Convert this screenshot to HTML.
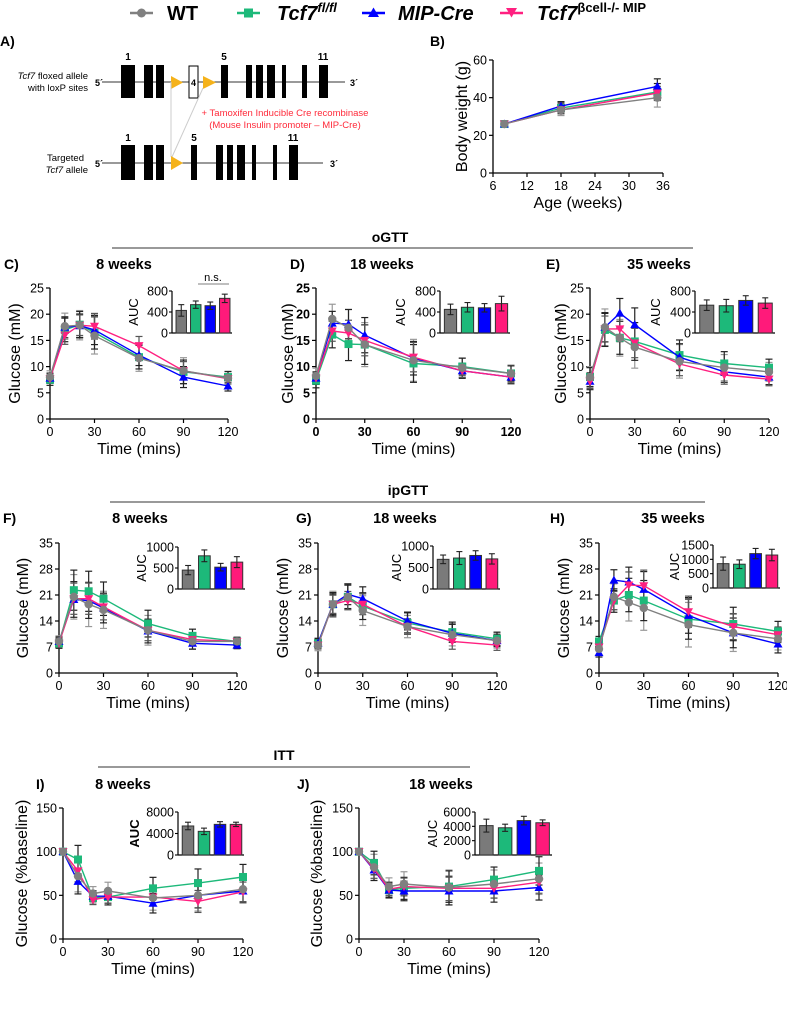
<!DOCTYPE html>
<html><head><meta charset="utf-8">
<style>
html,body{margin:0;padding:0;background:#fff;}
svg{display:block;font-family:"Liberation Sans",Arial,sans-serif;}
</style></head>
<body>
<svg id="fig" width="787" height="1016" viewBox="0 0 787 1016" xmlns="http://www.w3.org/2000/svg">
<g>
 <g>
  <line x1="130" y1="13" x2="153" y2="13" stroke="#808080" stroke-width="2.5"/><circle cx="141.5" cy="13" r="4.5" fill="#808080"/>
  <text x="167" y="20" font-size="20" font-weight="bold">WT</text></g>
 <g>
  <line x1="237" y1="13" x2="260" y2="13" stroke="#1db97a" stroke-width="2.5"/><rect x="244" y="8.5" width="9" height="9" fill="#1db97a"/>
  <text x="277" y="20" font-size="20" font-weight="bold" font-style="italic">Tcf7<tspan dy="-8" font-size="13">fl/fl</tspan></text></g>
 <g>
  <line x1="362" y1="13" x2="385" y2="13" stroke="#0000ff" stroke-width="2.5"/><path d="M373.5,7.5 L379,17 L368,17 Z" fill="#0000ff"/>
  <text x="398" y="20" font-size="20" font-weight="bold" font-style="italic">MIP-Cre</text></g>
 <g>
  <line x1="500" y1="13" x2="523" y2="13" stroke="#ff2080" stroke-width="2.5"/><path d="M506,8 L517,8 L511.5,17.5 Z" fill="#ff2080"/>
  <text x="537" y="20" font-size="20" font-weight="bold"><tspan font-style="italic">Tcf7</tspan><tspan dy="-8" font-size="13">βcell-/- MIP</tspan></text></g>
</g>

<g>
 <text x="0" y="46" font-size="14" font-weight="bold">A)</text>
 <text x="88" y="79" font-size="9.5" text-anchor="end"><tspan font-style="italic">Tcf7</tspan> floxed allele</text>
 <text x="88" y="91" font-size="9.5" text-anchor="end">with loxP sites</text>
 <text x="95" y="86" font-size="9" font-weight="bold">5´</text>
 <text x="350" y="86" font-size="9" font-weight="bold">3´</text>
 <line x1="102" y1="82" x2="345" y2="82" stroke="#333" stroke-width="1"/>
 <g fill="#000">
  <rect x="121" y="65" width="14" height="33"/><rect x="144" y="65" width="9" height="33"/><rect x="156" y="65" width="8" height="33"/>
  <rect x="221" y="65" width="7" height="33"/><rect x="246" y="65" width="6" height="33"/><rect x="256" y="65" width="7" height="33"/>
  <rect x="267" y="65" width="8" height="33"/><rect x="282" y="65" width="4" height="33"/><rect x="302" y="65" width="5" height="33"/><rect x="319" y="65" width="9" height="33"/>
 </g>
 <rect x="189" y="66" width="9" height="32" fill="#fff" stroke="#000" stroke-width="1"/>
 <text x="193.5" y="86" font-size="9" font-weight="bold" text-anchor="middle">4</text>
 <path d="M171,76 L183,82.5 L171,89 Z" fill="#f5b21a"/><path d="M203,76 L216,82.5 L203,89 Z" fill="#f5b21a"/>
 <text x="128" y="60" font-size="10" font-weight="bold" text-anchor="middle">1</text>
 <text x="224" y="60" font-size="10" font-weight="bold" text-anchor="middle">5</text>
 <text x="323" y="60" font-size="10" font-weight="bold" text-anchor="middle">11</text>
 <line x1="171" y1="82" x2="171" y2="157" stroke="#ccc" stroke-width="1"/>
 <line x1="203" y1="88" x2="172" y2="157" stroke="#ccc" stroke-width="1"/>
 <text x="285" y="116" font-size="9.5" fill="#ff2a3a" text-anchor="middle">+ Tamoxifen Inducible Cre recombinase</text>
 <text x="285" y="128" font-size="9.5" fill="#ff2a3a" text-anchor="middle">(Mouse Insulin promoter – MIP-Cre)</text>
 <text x="84" y="161" font-size="9.5" text-anchor="end">Targeted</text>
 <text x="88" y="173" font-size="9.5" text-anchor="end"><tspan font-style="italic">Tcf7</tspan> allele</text>
 <text x="95" y="167" font-size="9" font-weight="bold">5´</text>
 <text x="330" y="167" font-size="9" font-weight="bold">3´</text>
 <line x1="102" y1="163" x2="323" y2="163" stroke="#333" stroke-width="1"/>
 <g fill="#000">
  <rect x="121" y="145" width="14" height="35"/><rect x="144" y="145" width="9" height="35"/><rect x="156" y="145" width="8" height="35"/>
  <rect x="191" y="145" width="6" height="35"/><rect x="216" y="145" width="7" height="35"/><rect x="227" y="145" width="6" height="35"/>
  <rect x="237" y="145" width="8" height="35"/><rect x="252" y="145" width="4" height="35"/><rect x="273" y="145" width="4" height="35"/><rect x="289" y="145" width="9" height="35"/>
 </g>
 <path d="M171,156 L183,163 L171,170 Z" fill="#f5b21a"/>
 <text x="128" y="141" font-size="10" font-weight="bold" text-anchor="middle">1</text>
 <text x="194" y="141" font-size="10" font-weight="bold" text-anchor="middle">5</text>
 <text x="293" y="141" font-size="10" font-weight="bold" text-anchor="middle">11</text>
</g>

<text x="390" y="242" font-size="14" font-weight="bold" text-anchor="middle">oGTT</text>
<line x1="112" y1="248" x2="693" y2="248" stroke="#333" stroke-width="1"/>
<text x="408" y="495" font-size="14" font-weight="bold" text-anchor="middle">ipGTT</text>
<line x1="110" y1="502" x2="705" y2="502" stroke="#333" stroke-width="1"/>
<text x="284" y="760" font-size="14" font-weight="bold" text-anchor="middle">ITT</text>
<line x1="98" y1="767" x2="470" y2="767" stroke="#333" stroke-width="1"/>

<g id="charts"></g>
</svg>
<script>
const times = [0, 10, 20, 30, 60, 90, 120];
const seriesNames = ["WT", "Tcf7 fl/fl", "MIP-Cre", "Tcf7 bcell-/- MIP"];
const timeTicks = [0, 30, 60, 90, 120];

const ages = [8, 18, 35];
const bWT = [26, 33.5, 40];
const bFl = [26, 34.5, 43];
const bMip = [26, 35.5, 46];
const bKo = [26, 33.5, 42.5];
const bErr = [1.5, 3, 5];
const bAgeTicks = [6, 12, 18, 24, 30, 36];
const bYTicks = [0, 20, 40, 60];

const ogttTicks = [0, 5, 10, 15, 20, 25];
const cWT = [8, 17.7, 17.9, 15.9, 11.6, 9.2, 7.8];
const cFl = [7.5, 17, 18, 16.5, 11.8, 9, 8];
const cMip = [7.8, 17.5, 17.8, 17, 12.2, 8, 6.3];
const cKo = [7.7, 16, 17.9, 17.7, 14, 9.2, 7.7];
const cErr = [1.2, 2.5, 2.8, 3.5, 2.5, 2.5, 1.2];
const cAuc = [430, 540, 520, 660];
const cAucErr = [110, 70, 70, 80];

const dWT = [8.2, 19.1, 17.4, 14.2, 11.2, 9.8, 8.7];
const dFl = [7.3, 16.1, 14.3, 14.2, 10.6, 10, 8.7];
const dMip = [7.8, 18.3, 18.1, 16, 11.6, 9.2, 8];
const dKo = [7.8, 16.8, 16.4, 15, 11.8, 9.2, 8];
const dErr = [1.5, 2.8, 3.5, 4.2, 4, 1.8, 1.6];
const dAuc = [450, 490, 480, 560];
const dAucErr = [100, 90, 80, 140];

const eWT = [8, 17.5, 15.5, 13.7, 11, 9.8, 9];
const eFl = [8, 17, 15.5, 14.8, 12.2, 10.6, 9.8];
const eMip = [7.2, 17.5, 20.2, 18, 11.8, 9, 8];
const eKo = [7.2, 17.2, 17.2, 14.5, 10.5, 8.4, 7.6];
const eErr = [2, 3.5, 3.5, 4, 3.2, 2.5, 1.8];
const eAuc = [530, 520, 620, 570];
const eAucErr = [100, 120, 90, 100];

const ipgttTicks = [0, 7, 14, 21, 28, 35];
const fWT = [8.5, 20.5, 18.5, 17, 11.5, 8.5, 8.5];
const fFl = [8, 22.3, 22, 20, 13.3, 10, 8.5];
const fMip = [8.5, 19.8, 19.5, 17.5, 11.3, 8, 7.5];
const fKo = [8, 20, 20, 17.8, 11.5, 9, 8.5];
const fErr = [1.5, 6, 6, 5, 4, 2, 1.2];
const fAuc = [450, 790, 520, 640];
const fAucErr = [110, 140, 90, 130];

const gWT = [7.5, 18.5, 20.5, 16.8, 12.5, 10.3, 8.7];
const gFl = [8, 18.5, 20.5, 18, 13.5, 11, 9.2];
const gMip = [8, 18.5, 21.2, 20, 14, 10.7, 8.7];
const gKo = [7.5, 18.5, 19.5, 18.5, 12.5, 8.5, 7.5];
const gErr = [1.5, 3.5, 3.5, 4, 3, 3, 2];
const gAuc = [690, 720, 780, 700];
const gAucErr = [100, 150, 110, 120];

const hWT = [6.5, 20.5, 19, 17.5, 13, 10.8, 9.2];
const hFl = [8.5, 19.5, 21, 19.5, 14.5, 13.2, 11.2];
const hMip = [5.5, 25, 24.5, 22.5, 15.5, 10.8, 7.8];
const hKo = [7, 19.5, 23.7, 23.5, 16.5, 12.5, 10.3];
const hErr = [1.5, 3.5, 5, 6, 6, 5, 3];
const hAuc = [850, 830, 1200, 1150];
const hAucErr = [230, 150, 180, 200];

const ittTicks = [0, 50, 100, 150];
const iWT = [100, 72, 52, 55, 47, 50, 57];
const iFl = [100, 91, 47, 48, 58, 64, 71];
const iMip = [100, 66, 49, 49, 41, 50, 55];
const iKo = [100, 78, 45, 48, 48, 43, 54];
const iErr = [0, 18, 8, 10, 14, 18, 16];
const iAuc = [5400, 4400, 5700, 5700];
const iAucErr = [700, 600, 500, 400];

const jWT = [100, 82, 60, 63, 59, 63, 69];
const jFl = [100, 87, 56, 58, 60, 68, 78];
const jMip = [100, 79, 56, 55, 55, 55, 59];
const jKo = [100, 80, 57, 60, 58, 58, 65];
const jErr = [0, 15, 10, 14, 20, 16, 18];
const jAuc = [4100, 3800, 4800, 4500];
const jAucErr = [900, 500, 600, 400];

const NS = "http://www.w3.org/2000/svg";
const colors = ["#808080", "#1db97a", "#0000ff", "#ff2080"];
const barColors = ["#7a7a7a", "#1db97a", "#0000ff", "#ff1a7a"];
const errColors = ["#999999", "#222222", "#222222", "#555555"];
const root = document.getElementById("charts");

function mk(tag, attrs, parent) {
  const e = document.createElementNS(NS, tag);
  for (const k in attrs) e.setAttribute(k, attrs[k]);
  (parent || root).appendChild(e);
  return e;
}
function txt(s, attrs, parent) { const t = mk("text", attrs, parent); t.textContent = s; return t; }

function marker(g, kind, x, y, c) {
  let m;
  if (kind === 0) m = mk("circle", {cx: x, cy: y, r: 4.2, fill: c}, g);
  else if (kind === 1) m = mk("rect", {x: x - 4, y: y - 4, width: 8, height: 8, fill: c}, g);
  else if (kind === 2) m = mk("path", {d: `M${x},${y-4.5} L${x+4.5},${y+3.5} L${x-4.5},${y+3.5} Z`, fill: c}, g);
  else m = mk("path", {d: `M${x-4.5},${y-3.5} L${x+4.5},${y-3.5} L${x},${y+4.5} Z`, fill: c}, g);
  
  
}

function drawLinePanel(p) {
  const g = mk("g", {});
  
  
  const xs = v => p.x0 + (v - p.xmin) / (p.xmax - p.xmin) * (p.x1 - p.x0);
  const ys = v => p.yb - (v - p.ymin) / (p.ymax - p.ymin) * (p.yb - p.yt);
  const fw = p.boldTicks ? "bold" : "normal";
  const ya = mk("line", {x1: p.x0, y1: p.yt, x2: p.x0, y2: p.yb, stroke: "#000", "stroke-width": 1.3}, g);
   
  const xa = mk("line", {x1: p.x0, y1: p.yb, x2: p.x1, y2: p.yb, stroke: "#000", "stroke-width": 1.3}, g);
   
  p.yticks.forEach(v => {
    mk("line", {x1: p.x0 - 4, y1: ys(v), x2: p.x0, y2: ys(v), stroke: "#000", "stroke-width": 1.2}, g);
    const t = txt(String(v), {x: p.x0 - 6, y: ys(v) + 4.5, "font-size": 12.5, "text-anchor": "end", "font-weight": fw}, g);
     
  });
  p.xticks.forEach(v => {
    mk("line", {x1: xs(v), y1: p.yb, x2: xs(v), y2: p.yb + 4, stroke: "#000", "stroke-width": 1.2}, g);
    const t = txt(String(v), {x: xs(v), y: p.yb + 17, "font-size": 12.5, "text-anchor": "middle", "font-weight": fw}, g);
     
  });
  const xl = txt(p.xlabel, {x: (p.x0 + p.x1) / 2, y: p.yb + 35, "font-size": 16, "text-anchor": "middle"}, g);
   
  const yl = txt(p.ylabel, {x: 0, y: 0, "font-size": 16, "text-anchor": "middle", transform: `translate(${p.ylx},${(p.yt + p.yb) / 2}) rotate(-90)`}, g);
   
  if (p.label) {
    const pl = txt(p.label, {x: p.labelX, y: p.titleY, "font-size": 14, "font-weight": "bold"}, g);
     
  }
  if (p.title) {
    const tt = txt(p.title, {x: p.titleX, y: p.titleY, "font-size": 14.5, "font-weight": "bold", "text-anchor": "middle"}, g);
     
  }
  p.series.forEach((s, si) => {
    s.forEach((v, i) => {
      const e = p.err[i] * (1 - 0.1 * si);
      if (e <= 0) return;
      const x = xs(p.xv[i]);
      const eg = mk("g", {stroke: errColors[si], "stroke-width": 1.2}, g);
       
      mk("line", {x1: x, y1: ys(v - e), x2: x, y2: ys(v + e)}, eg);
      mk("line", {x1: x - 3.5, y1: ys(v - e), x2: x + 3.5, y2: ys(v - e)}, eg);
      mk("line", {x1: x - 3.5, y1: ys(v + e), x2: x + 3.5, y2: ys(v + e)}, eg);
    });
  });
  [1, 2, 3, 0].forEach(si => {
    const s = p.series[si];
    const pts = s.map((v, i) => `${xs(p.xv[i]).toFixed(1)},${ys(v).toFixed(1)}`).join(" ");
    const pl = mk("polyline", {points: pts, fill: "none", stroke: colors[si], "stroke-width": 1.4}, g);
    
    
    s.forEach((v, i) => marker(g, si, xs(p.xv[i]), ys(v), colors[si]));
  });
  if (p.inset) drawInset(p.inset);
}

function drawInset(q) {
  const g = mk("g", {});
  
  
  const ys = v => q.b - v / q.max * (q.b - q.t);
  mk("line", {x1: q.l, y1: q.t, x2: q.l, y2: q.b, stroke: "#000", "stroke-width": 1.2}, g);
  mk("line", {x1: q.l, y1: q.b, x2: q.r, y2: q.b, stroke: "#000", "stroke-width": 1.2}, g);
  q.ticks.forEach(v => {
    mk("line", {x1: q.l - 3, y1: ys(v), x2: q.l, y2: ys(v), stroke: "#000", "stroke-width": 1.1}, g);
    const t = txt(String(v), {x: q.l - 4, y: ys(v) + 4.5, "font-size": 12.5, "text-anchor": "end"}, g);
     
  });
  const al = txt("AUC", {x: 0, y: 0, "font-size": 13, "text-anchor": "middle", "font-weight": q.boldLabel ? "bold" : "normal", transform: `translate(${q.lx},${(q.t + q.b) / 2}) rotate(-90)`}, g);
   
  const slot = (q.r - q.l - 2) / 4, bw = slot * 0.72;
  q.vals.forEach((v, i) => {
    const cx = q.l + 2 + slot * (i + 0.5);
    const r = mk("rect", {x: cx - bw / 2, y: ys(v), width: bw, height: q.b - ys(v), fill: barColors[i], stroke: "#333", "stroke-width": 1}, g);
    
    
    const e = q.errs[i];
    const eg = mk("g", {stroke: "#222", "stroke-width": 1.1}, g);
     
    mk("line", {x1: cx, y1: ys(v - e), x2: cx, y2: ys(v + e)}, eg);
    mk("line", {x1: cx - 3, y1: ys(v + e), x2: cx + 3, y2: ys(v + e)}, eg);
    mk("line", {x1: cx - 3, y1: ys(v - e), x2: cx + 3, y2: ys(v - e)}, eg);
  });
}

const tl = "Time (mins)";
drawLinePanel({name: "panel-b-body-weight", x0: 493, x1: 663, xmin: 6, xmax: 36, yb: 173, yt: 60, ymin: 0, ymax: 60,
  yticks: bYTicks, xticks: bAgeTicks, xv: ages, series: [bWT, bFl, bMip, bKo], err: bErr,
  xlabel: "Age (weeks)", ylabel: "Body weight (g)", ylx: 467, label: "B)", labelX: 430, titleY: 46});
const ogRow = {yb: 419, yt: 288, ymin: 0, ymax: 25, yticks: ogttTicks, xticks: timeTicks, xv: times, xmin: 0, xmax: 120, xlabel: tl, ylabel: "Glucose (mM)", titleY: 269};
drawLinePanel(Object.assign({}, ogRow, {name: "panel-c-ogtt-8wk", x0: 50, x1: 228, series: [cWT, cFl, cMip, cKo], err: cErr, ylx: 20, label: "C)", labelX: 4, title: "8 weeks", titleX: 124,
  inset: {l: 172, r: 232, b: 333, t: 291, max: 800, ticks: [0, 400, 800], vals: cAuc, errs: cAucErr, lx: 138}}));
drawLinePanel(Object.assign({}, ogRow, {name: "panel-d-ogtt-18wk", x0: 316, x1: 511, series: [dWT, dFl, dMip, dKo], err: dErr, ylx: 293, boldTicks: true, label: "D)", labelX: 290, title: "18 weeks", titleX: 382,
  inset: {l: 440, r: 510, b: 333, t: 291, max: 800, ticks: [0, 400, 800], vals: dAuc, errs: dAucErr, lx: 405}}));
drawLinePanel(Object.assign({}, ogRow, {name: "panel-e-ogtt-35wk", x0: 590, x1: 769, series: [eWT, eFl, eMip, eKo], err: eErr, ylx: 566, label: "E)", labelX: 546, title: "35 weeks", titleX: 659,
  inset: {l: 695, r: 775, b: 333, t: 291, max: 800, ticks: [0, 400, 800], vals: eAuc, errs: eAucErr, lx: 660}}));
const ns1 = mk("line", {x1: 198, y1: 284, x2: 229, y2: 284, stroke: "#999", "stroke-width": 1.2});
 
const nst = txt("n.s.", {x: 213, y: 281, "font-size": 11, "text-anchor": "middle"});
 
const ipRow = {yb: 673, yt: 543, ymin: 0, ymax: 35, yticks: ipgttTicks, xticks: timeTicks, xv: times, xmin: 0, xmax: 120, xlabel: tl, ylabel: "Glucose (mM)", titleY: 523};
drawLinePanel(Object.assign({}, ipRow, {name: "panel-f-ipgtt-8wk", x0: 59, x1: 237, series: [fWT, fFl, fMip, fKo], err: fErr, ylx: 28, label: "F)", labelX: 3, title: "8 weeks", titleX: 140,
  inset: {l: 178, r: 245, b: 589, t: 547, max: 1000, ticks: [0, 500, 1000], vals: fAuc, errs: fAucErr, lx: 146}}));
drawLinePanel(Object.assign({}, ipRow, {name: "panel-g-ipgtt-18wk", x0: 318, x1: 497, series: [gWT, gFl, gMip, gKo], err: gErr, ylx: 288, label: "G)", labelX: 296, title: "18 weeks", titleX: 405,
  inset: {l: 433, r: 500, b: 589, t: 546, max: 1000, ticks: [0, 500, 1000], vals: gAuc, errs: gAucErr, lx: 401}}));
drawLinePanel(Object.assign({}, ipRow, {name: "panel-h-ipgtt-35wk", x0: 599, x1: 778, series: [hWT, hFl, hMip, hKo], err: hErr, ylx: 569, label: "H)", labelX: 550, title: "35 weeks", titleX: 673,
  inset: {l: 713, r: 780, b: 588, t: 545, max: 1500, ticks: [0, 500, 1000, 1500], vals: hAuc, errs: hAucErr, lx: 679}}));
const ittRow = {yb: 939, yt: 808, ymin: 0, ymax: 150, yticks: ittTicks, xticks: timeTicks, xv: times, xmin: 0, xmax: 120, xlabel: tl, ylabel: "Glucose (%baseline)", titleY: 789};
drawLinePanel(Object.assign({}, ittRow, {name: "panel-i-itt-8wk", x0: 63, x1: 243, series: [iWT, iFl, iMip, iKo], err: iErr, ylx: 27, label: "I)", labelX: 36, title: "8 weeks", titleX: 123,
  inset: {l: 178, r: 244, b: 855, t: 812, max: 8000, ticks: [0, 4000, 8000], vals: iAuc, errs: iAucErr, lx: 139, boldLabel: true}}));
drawLinePanel(Object.assign({}, ittRow, {name: "panel-j-itt-18wk", x0: 359, x1: 539, series: [jWT, jFl, jMip, jKo], err: jErr, ylx: 322, label: "J)", labelX: 297, title: "18 weeks", titleX: 441,
  inset: {l: 475, r: 552, b: 855, t: 812, max: 6000, ticks: [0, 2000, 4000, 6000], vals: jAuc, errs: jAucErr, lx: 437}}));
</script>
</body></html>
